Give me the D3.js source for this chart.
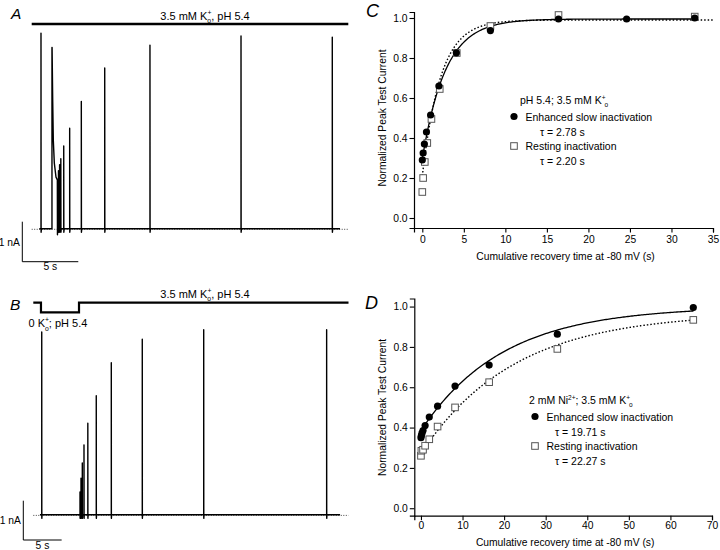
<!DOCTYPE html>
<html>
<head>
<meta charset="utf-8">
<script src="https://cdn.jsdelivr.net/npm/d3@7"></script>
<style>
    body { margin: 0; background: #fff; }
    svg { display: block; font-family: "Liberation Sans", Arial, Helvetica, sans-serif; }
</style>
</head>
<body>
<svg id="fig" width="720" height="550"></svg>
<script>
// ---- panel A: peak of each test pulse (s, nA) ----
var spikeA_t = [0.83, 1.81, 2.39, 2.49, 2.60, 2.86, 3.39, 4.43, 6.52, 10.56, 18.69, 26.84];
var spikeA_nA = [4.89, 4.53, 1.45, 1.60, 1.75, 2.07, 2.51, 3.18, 4.02, 4.59, 4.82, 4.79];
// decaying current during the conditioning pulse (second spike)
var tailA_t = [1.82, 1.875, 1.93, 2.02, 2.17, 2.29];
var tailA_nA = [4.53, 3.22, 2.21, 1.64, 1.29, 1.22];

// ---- panel B ----
var spikeB_t = [1.10, 6.09, 6.22, 6.39, 6.61, 7.11, 8.21, 10.17, 14.21, 22.22, 38.25];
var spikeB_nA = [4.65, 0.58, 0.93, 1.32, 1.78, 2.33, 3.03, 3.87, 4.47, 4.71, 4.71];
// solution timeline in B: 1 = 3.5 mM K+, 0 = 0 K+
var solB_t = [0, 1.0, 5.96, 41.1];
var solB_level = [1, 0, 1];

// ---- panel C: pH 5.4; 3.5 mM K+o ----
var tC_enh = [0, 0.1, 0.25, 0.5, 1, 2, 4.1, 8.2, 16.4, 24.6, 32.8];
var yC_enh = [0.29, 0.325, 0.37, 0.43, 0.515, 0.66, 0.826, 0.937, 0.995, 0.995, 1.0];
var tC_rest = [0, 0.1, 0.3, 0.6, 1.1, 2.1, 4.15, 8.2, 16.4, 32.8];
var yC_rest = [0.13, 0.20, 0.28, 0.375, 0.495, 0.645, 0.825, 0.96, 1.015, 1.007];
// single exponential fits: y = amp - span * exp(-t / tau)   [enhanced, resting]
var fitC_tau = [2.78, 2.20];
var fitC_amp = [0.995, 0.99];
var fitC_span = [0.70, 0.78];
var fitC_end = [32.8, 35];

// ---- panel D: 2 mM Ni2+; 3.5 mM K+o ----
var tD_enh = [0, 0.1, 0.25, 0.5, 1, 2, 4, 8.2, 16.4, 32.8, 65.5];
var yD_enh = [0.35, 0.36, 0.372, 0.385, 0.41, 0.452, 0.506, 0.606, 0.71, 0.863, 0.995];
var tD_rest = [0, 0.1, 0.5, 1, 2, 4, 8.2, 16.4, 32.8, 65.5];
var yD_rest = [0.26, 0.285, 0.29, 0.31, 0.342, 0.405, 0.50, 0.625, 0.79, 0.934];
var fitD_tau = [19.71, 22.27];
var fitD_amp = [1.0, 0.97];
var fitD_span = [0.615, 0.70];
var fitD_end = [65.5, 65.5];

var yTicks = [0, 0.2, 0.4, 0.6, 0.8, 1.0];
var xTicksC = [0, 5, 10, 15, 20, 25, 30, 35];
var xTicksD = [0, 10, 20, 30, 40, 50, 60, 70];

var svg = d3.select('#fig');
var FS = 10.3;

// text with K+o style stacked super/subscripts
function richText (g, x, y, parts, size, anchor) {
    var t = g.append('text').attr('x', x).attr('y', y)
        .attr('font-size', size).attr('text-anchor', anchor || 'start');
    var shift = 0;
    parts.forEach((p) => {
        var ts = t.append('tspan').text(p.s);
        var target = p.k === 'sup' ? -0.42 * size : p.k === 'sub' ? 0.32 * size : 0;
        ts.attr('dy', target - shift);
        shift = target;
        if (p.k) { ts.attr('font-size', size * 0.62); }
        if (p.dx) { ts.attr('dx', p.dx); }
    });
    return t;
}

function kPlus (pre, post) {
    return [{ s: pre }, { s: '+', k: 'sup' }, { s: 'o', k: 'sub', dx: -4 }, { s: post || '' }];
}

function panelLabel (x, y, s, size) {
    svg.append('text').attr('x', x).attr('y', y).text(s)
        .attr('font-size', size).attr('font-style', 'italic');
}

// ---------- current traces (A, B) ----------
function drawTrace (o) {
    var g = svg.append('g');
    var x = d3.scaleLinear().domain(o.tDomain).range(o.xRange);
    var y = d3.scaleLinear().domain([0, 1]).range([o.y0, o.y0 - o.pxPerNA]);

    // dotted zero-current line
    g.append('line')
        .attr('x1', o.xRange[0]).attr('x2', o.xRange[1])
        .attr('y1', y(0) + 0.6).attr('y2', y(0) + 0.6)
        .attr('stroke', '#444').attr('stroke-width', 1)
        .attr('stroke-dasharray', '1,1.5');

    // build the trace from the spike list
    var pts = [[o.start, 0]];
    o.t.forEach((t, i) => {
        pts.push([t, 0], [t, o.nA[i]]);
        var tEnd = t;
        if (o.tailT && i === o.tailIndex) {
            o.tailT.forEach((tt, j) => { pts.push([tt, o.tailNA[j]]); });
            tEnd = o.tailT[o.tailT.length - 1];
            pts.push([tEnd + 0.01, -0.15], [tEnd + 0.04, 0]);
        } else {
            pts.push([tEnd + 0.01, -0.09], [tEnd + 0.04, 0]);
        }
    });
    pts.push([o.end, 0]);

    g.append('path')
        .datum(pts)
        .attr('fill', 'none')
        .attr('stroke', '#000')
        .attr('stroke-width', 1.4)
        .attr('stroke-linejoin', 'round')
        .attr('d', d3.line()
            .x((d) => { return x(d[0]); })
            .y((d) => { return y(d[1]); }));

    // scale bars: 1 nA, 5 s
    var bx = o.bar[0], by = o.bar[1];
    g.append('path')
        .attr('fill', 'none').attr('stroke', '#000').attr('stroke-width', 1)
        .attr('d', 'M' + bx + ',' + (by - (y(0) - y(1))) + 'V' + by + 'H' + (bx + x(5) - x(0)));
    g.append('text').attr('x', bx - 2.5).attr('y', by - (y(0) - y(1)) / 2 + 4)
        .attr('text-anchor', 'end').attr('font-size', FS).text('1 nA');
    g.append('text').attr('x', bx + (x(5) - x(0)) / 2).attr('y', o.secY)
        .attr('text-anchor', 'middle').attr('font-size', FS).text('5 s');
    return { x: x, y: y, g: g };
}

// panel A
var tA = drawTrace({
    tDomain: [0, 28.27], xRange: [31.7, 348.3], y0: 228.7, pxPerNA: 40,
    start: 0.68, end: 27.53,
    t: spikeA_t, nA: spikeA_nA, tailT: tailA_t, tailNA: tailA_nA, tailIndex: 1,
    bar: [22.3, 261.7], secY: 270
});
tA.g.append('line')
    .attr('x1', tA.x(0)).attr('x2', tA.x(28.27))
    .attr('y1', 24).attr('y2', 24)
    .attr('stroke', '#000').attr('stroke-width', 2.6);
richText(tA.g, 205, 19.5, kPlus('3.5 mM K', ', pH 5.4'), 11, 'middle');
panelLabel(11, 18.5, 'A', 15.5);

// panel B
var tB = drawTrace({
    tDomain: [0, 41.1], xRange: [33.3, 348.5], y0: 514.8, pxPerNA: 39.3,
    start: 0.87, end: 40.0,
    t: spikeB_t, nA: spikeB_nA,
    bar: [23.3, 540], secY: 549
});
var solY = [312.3, 302.7];
var solPts = [];
solB_level.forEach((lv, i) => {
    solPts.push([tB.x(solB_t[i]), solY[lv]], [tB.x(solB_t[i + 1]), solY[lv]]);
});
tB.g.append('path')
    .datum(solPts)
    .attr('fill', 'none').attr('stroke', '#000').attr('stroke-width', 2.2)
    .attr('d', d3.line());
richText(tB.g, 205, 297.5, kPlus('3.5 mM K', ', pH 5.4'), 11, 'middle');
richText(tB.g, 28.5, 327, kPlus('0 K', '; pH 5.4'), 11, 'start');
panelLabel(10, 310, 'B', 15.5);

// ---------- recovery plots (C, D) ----------
function drawRecovery (o) {
    var g = svg.append('g');
    var x = d3.scaleLinear().domain(o.xDomain).range(o.xRange);
    var y = d3.scaleLinear().domain(o.yDomain).range(o.yRange);

    g.append('g')
        .attr('transform', 'translate(0,' + o.yRange[0] + ')')
        .call(d3.axisBottom(x).tickValues(o.xTicks).tickSizeOuter(0).tickSize(4.5).tickPadding(o.xPad))
        .call((a) => {
            a.select('.domain').attr('stroke-width', 1.2);
            a.selectAll('.tick line').attr('stroke-width', 1.1);
            a.selectAll('text').attr('font-size', FS).attr('font-family', null);
        });
    g.append('g')
        .attr('transform', 'translate(' + o.xRange[0] + ',0)')
        .call(d3.axisLeft(y).tickValues(yTicks).tickFormat(d3.format('.1f'))
            .tickSizeOuter(0).tickSize(4.5).tickPadding(2))
        .call((a) => {
            a.select('.domain').attr('stroke-width', 1.2);
            a.selectAll('.tick line').attr('stroke-width', 1.1);
            a.selectAll('text').attr('font-size', FS).attr('font-family', null);
        });

    g.append('text')
        .attr('x', (o.xRange[0] + o.xRange[1]) / 2 + 2).attr('y', o.xTitleY)
        .attr('text-anchor', 'middle').attr('font-size', FS)
        .text('Cumulative recovery time at -80 mV (s)');
    g.append('text')
        .attr('transform', 'translate(386,' + y(0.5) + ') rotate(-90)')
        .attr('text-anchor', 'middle').attr('font-size', FS)
        .text('Normalized Peak Test Current');

    // fitted exponentials: solid = enhanced slow, dotted = resting
    var line = d3.line()
        .x((d) => { return x(d[0]); })
        .y((d) => { return y(d[1]); });
    [1, 0].forEach((k) => {
        var pts = d3.range(0, 201).map((i) => {
            var t = o.fitStart[k] + (o.fitEnd[k] - o.fitStart[k]) * i / 200;
            return [t, o.fitAmp[k] - o.fitSpan[k] * Math.exp(-t / o.fitTau[k])];
        });
        g.append('path').datum(pts)
            .attr('fill', 'none').attr('stroke', '#000')
            .attr('stroke-width', k === 0 ? 1.3 : 1.4)
            .attr('stroke-dasharray', k === 0 ? null : '1.5,2')
            .attr('d', line);
    });

    // resting: open squares
    g.selectAll('.sq').data(o.tRest).enter().append('rect')
        .attr('class', 'sq')
        .attr('x', (d) => { return x(d) - 3.3; })
        .attr('y', (d, i) => { return y(o.yRest[i]) - 3.3; })
        .attr('width', 6.6).attr('height', 6.6)
        .attr('fill', '#fff').attr('stroke', '#555').attr('stroke-width', 1);
    // enhanced: filled circles
    g.selectAll('.dot').data(o.tEnh).enter().append('circle')
        .attr('class', 'dot')
        .attr('cx', (d) => { return x(d); })
        .attr('cy', (d, i) => { return y(o.yEnh[i]); })
        .attr('r', 3.6).attr('fill', '#000');

    // legend
    var L = o.legend;
    richText(g, L.x + L.condDx, L.y, o.cond, 10.5, 'start');
    g.append('circle').attr('cx', L.x).attr('cy', L.y + 12.5).attr('r', 3.6).attr('fill', '#000');
    g.append('text').attr('x', L.x + 11.5).attr('y', L.y + 16.5).attr('font-size', 10.5)
        .text('Enhanced slow inactivation');
    g.append('text').attr('x', L.x + L.tauDx).attr('y', L.y + 32).attr('font-size', 10.5)
        .text('\u03c4 = ' + o.fitTau[0].toFixed(2) + ' s');
    g.append('rect').attr('x', L.x - 3.3).attr('y', L.y + 42 - 3.3).attr('width', 6.6).attr('height', 6.6)
        .attr('fill', '#fff').attr('stroke', '#555').attr('stroke-width', 1);
    g.append('text').attr('x', L.x + 11.5).attr('y', L.y + 46).attr('font-size', 10.5)
        .text('Resting inactivation');
    g.append('text').attr('x', L.x + L.tauDx).attr('y', L.y + 60.5).attr('font-size', 10.5)
        .text('\u03c4 = ' + o.fitTau[1].toFixed(2) + ' s');
}

drawRecovery({
    xDomain: [-1, 35], xRange: [414, 713],
    yDomain: [-0.05, 1.03], yRange: [228, 12],
    xTicks: xTicksC, xPad: 3, xTitleY: 260,
    tEnh: tC_enh, yEnh: yC_enh, tRest: tC_rest, yRest: yC_rest,
    fitTau: fitC_tau, fitAmp: fitC_amp, fitSpan: fitC_span,
    fitStart: [0, 0], fitEnd: fitC_end,
    cond: [{ s: 'pH 5.4; 3.5 mM K' }, { s: '+', k: 'sup' }, { s: 'o', k: 'sub', dx: -1 }],
    legend: { x: 514, y: 104, tauDx: 26, condDx: 6 }
});
panelLabel(366, 17, 'C', 18);

drawRecovery({
    xDomain: [-1.6, 70], xRange: [414.3, 712],
    yDomain: [-0.037, 1.04], yRange: [515.7, 298.5],
    xTicks: xTicksD, xPad: 1.5, xTitleY: 546,
    tEnh: tD_enh, yEnh: yD_enh, tRest: tD_rest, yRest: yD_rest,
    fitTau: fitD_tau, fitAmp: fitD_amp, fitSpan: fitD_span,
    fitStart: [0, 0.5], fitEnd: fitD_end,
    cond: [{ s: '2 mM Ni' }, { s: '2+', k: 'sup' }, { s: '; 3.5 mM K' }, { s: '+', k: 'sup' }, { s: 'o', k: 'sub', dx: -1 }],
    legend: { x: 535, y: 404, tauDx: 20, condDx: -6 }
});
panelLabel(365, 309, 'D', 18);
</script>
</body>
</html>
